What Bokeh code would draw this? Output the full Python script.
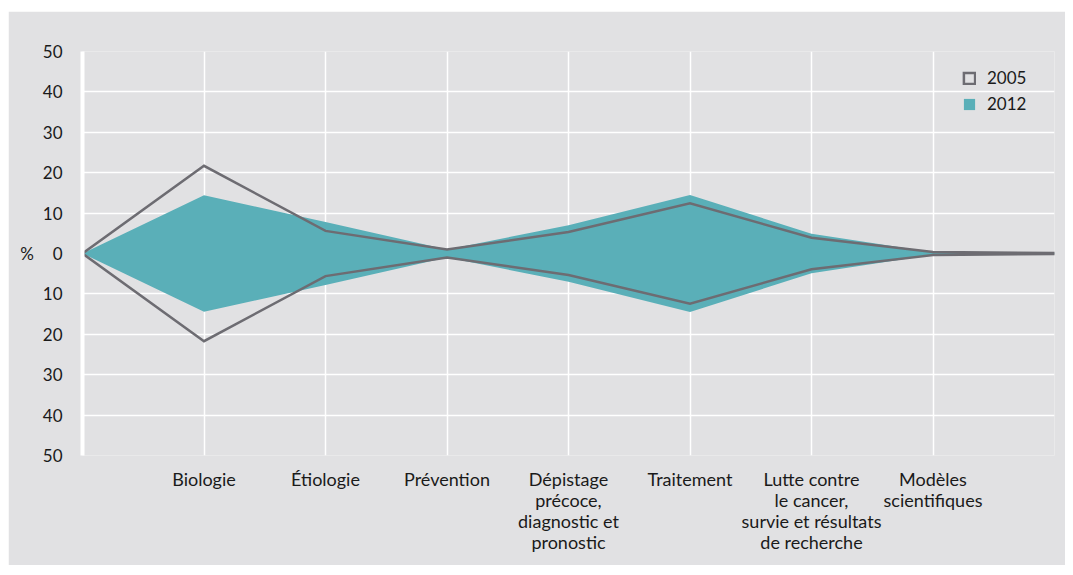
from bokeh.plotting import figure
from bokeh.models import Legend, LegendItem, FixedTicker
from bokeh.embed import file_html
from bokeh.resources import INLINE

categories = ["", "Biologie", "Étiologie", "Prévention",
              "Dépistage\nprécoce,\ndiagnostic et\npronostic",
              "Traitement",
              "Lutte contre\nle cancer,\nsurvie et résultats\nde recherche",
              "Modèles\nscientifiques", ""]
positions = [0, 1, 2, 3, 4, 5, 6, 7, 8]
values_2005 = [0, 21.7, 5.6, 1.0, 5.3, 12.4, 3.9, 0.4, 0.1]
values_2012 = [0, 14.4, 7.8, 1.0, 7.0, 14.5, 4.9, 0.3, 0.1]
y_ticks = [-50, -40, -30, -20, -10, 0, 10, 20, 30, 40, 50]

BG = "#e1e1e3"
TEAL = "#5aafb8"
GRAY = "#6d6c72"
TXT = "#1a1a1a"
FONT = "Lato"

p = figure(width=1057, height=554, output_backend="svg", toolbar_location=None,
           x_range=(0, 8), y_range=(-50, 50),
           min_border_left=74, min_border_top=40, min_border_right=11,
           min_border_bottom=110)
p.margin = (11, 0, 0, 8)
p.background_fill_color = BG
p.border_fill_color = BG
p.outline_line_color = None


def mirror(xs, ys):
    return xs + xs[::-1], ys + [-v for v in ys[::-1]]


x12, y12 = mirror(positions, values_2012)
x05, y05 = mirror(positions, values_2005)

r12 = p.patch(x12, y12, fill_color=TEAL, line_color=None)
r05 = p.patch(x05, y05, fill_alpha=0, line_color=GRAY, line_width=2.5,
              line_join="miter")

# axes
p.yaxis.ticker = FixedTicker(ticks=y_ticks)
p.yaxis.major_label_overrides = {t: str(abs(t)) for t in y_ticks}
p.yaxis.axis_line_color = "white"
p.yaxis.axis_line_width = 4
p.yaxis.major_tick_line_color = None
p.yaxis.minor_tick_line_color = None
p.yaxis.major_label_standoff = 14
p.yaxis.major_label_text_font = FONT
p.yaxis.major_label_text_font_size = "17px"
p.yaxis.major_label_text_color = TXT
p.yaxis.axis_label = "%"
p.yaxis.axis_label_orientation = "horizontal"
p.yaxis.axis_label_standoff = 6
p.yaxis.axis_label_text_font = FONT
p.yaxis.axis_label_text_font_style = "normal"
p.yaxis.axis_label_text_font_size = "17px"
p.yaxis.axis_label_text_color = TXT

p.xaxis.ticker = FixedTicker(ticks=positions)
p.xaxis.major_label_overrides = {pos: lab for pos, lab in zip(positions, categories)}
p.xaxis.axis_line_color = None
p.xaxis.major_tick_line_color = None
p.xaxis.minor_tick_line_color = None
p.xaxis.major_label_standoff = 6
p.xaxis.major_label_text_font = FONT
p.xaxis.major_label_text_font_size = "18px"
p.xaxis.major_label_text_color = TXT
p.xaxis.major_label_text_line_height = 0.96

p.xgrid.ticker = FixedTicker(ticks=positions)
p.ygrid.ticker = FixedTicker(ticks=y_ticks)
for g in (p.xgrid, p.ygrid):
    g.grid_line_color = "white"
    g.grid_line_width = 1.5
    g.grid_line_alpha = 1.0

legend = Legend(items=[LegendItem(label="2005", renderers=[r05]),
                       LegendItem(label="2012", renderers=[r12])],
                location=(880, 341), orientation="vertical",
                glyph_width=14, glyph_height=14, label_height=16,
                label_standoff=11, spacing=5, padding=0, margin=0,
                border_line_color=None, background_fill_alpha=0,
                label_text_font=FONT, label_text_font_size="17px",
                label_text_color=TXT)
p.add_layout(legend)

open("out.html", "w").write(file_html(p, INLINE))
